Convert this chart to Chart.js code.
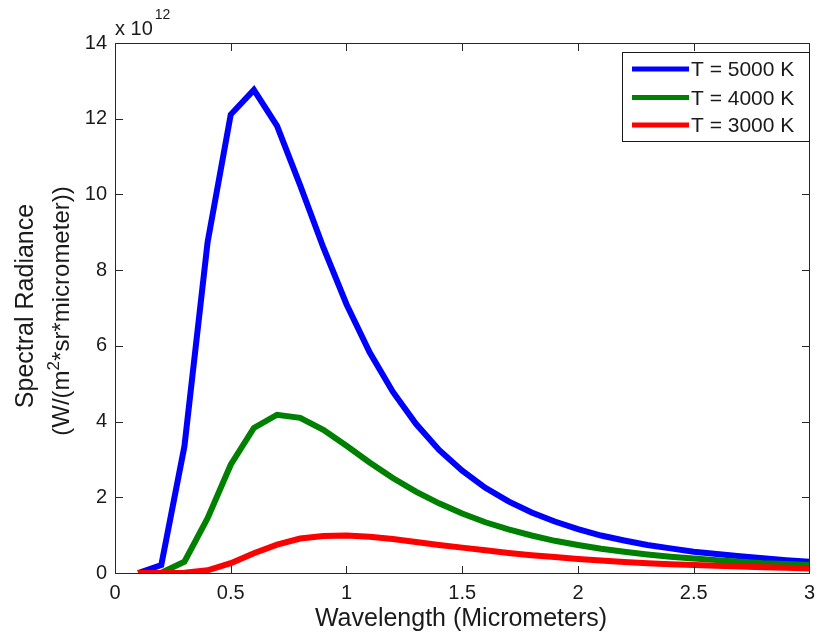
<!DOCTYPE html>
<html>
<head>
<meta charset="utf-8">
<script src="https://cdn.jsdelivr.net/npm/chart.js@4/dist/chart.umd.min.js"></script>
<style>
  html, body { margin: 0; padding: 0; background: #ffffff; }
  #wrap { width: 823px; height: 636px; }
</style>
</head>
<body>
<div id="wrap"><canvas id="c" width="823" height="636"></canvas></div>
<script>
// ---- data (values in units of 10^12 W/(m^2*sr*micrometer)) ----
const wavelengths = [0.1,0.2,0.3,0.4,0.5,0.6,0.7,0.8,0.9,1.0,1.1,1.2,1.3,1.4,1.5,1.6,1.7,1.8,1.9,2.0,2.1,2.2,2.3,2.4,2.5,2.6,2.7,2.8,2.9,3.0];
const radiance5000 = [0.00,0.21,3.35,8.74,12.11,12.76,11.81,10.24,8.60,7.10,5.83,4.79,3.94,3.25,2.70,2.25,1.89,1.60,1.36,1.16,0.99,0.86,0.74,0.65,0.56,0.50,0.44,0.39,0.34,0.30];
const radiance4000 = [0.00,0.006,0.30,1.45,2.86,3.83,4.18,4.10,3.78,3.36,2.92,2.51,2.15,1.84,1.57,1.34,1.15,0.99,0.85,0.74,0.64,0.56,0.49,0.43,0.38,0.34,0.30,0.26,0.24,0.21];
const radiance3000 = [0.00,0.00,0.006,0.072,0.26,0.52,0.75,0.91,0.98,0.99,0.96,0.90,0.82,0.74,0.67,0.60,0.53,0.47,0.42,0.37,0.33,0.29,0.26,0.23,0.21,0.19,0.17,0.15,0.14,0.12];
const seriesLabels = ['T = 5000 K', 'T = 4000 K', 'T = 3000 K'];
const seriesColors = ['#0000ff', '#008000', '#ff0000'];
const xTickValues = [0, 0.5, 1, 1.5, 2, 2.5, 3];
const xTickLabels = ['0', '0.5', '1', '1.5', '2', '2.5', '3'];
const yTickValues = [0, 2, 4, 6, 8, 10, 12, 14];
const yTickLabels = ['0', '2', '4', '6', '8', '10', '12', '14'];
const xTitle = 'Wavelength (Micrometers)';
const yTitle1 = 'Spectral Radiance';
const yTitle2Pre = '(W/(m', yTitle2Sup = '2', yTitle2Post = '*sr*micrometer))';
const exponentBase = 'x 10', exponentPow = '12';

const FONT = '"Liberation Sans", Arial, Helvetica, sans-serif';
const AXIS_COLOR = '#262626';
const TEXT_COLOR = '#1a1a1a';

function pts(vals) { return wavelengths.map((w, i) => ({ x: w, y: vals[i] })); }
const allSeries = [radiance5000, radiance4000, radiance3000];

const datasets = allSeries.map((vals, i) => ({
  label: seriesLabels[i],
  data: pts(vals),
  borderColor: seriesColors[i],
  backgroundColor: seriesColors[i],
  borderWidth: 6,
  pointRadius: 0,
  tension: 0,
  fill: false,
  borderJoinStyle: 'miter',
  borderCapStyle: 'butt',
  order: 3 - i
}));

const overlay = {
  id: 'overlay',
  afterDraw(chart) {
    const { ctx, chartArea: a, scales: { x, y } } = chart;
    const L = Math.round(a.left), R = Math.round(a.right), T = Math.round(a.top), B = Math.round(a.bottom);
    ctx.save();
    // box
    ctx.strokeStyle = AXIS_COLOR; ctx.lineWidth = 1;
    ctx.strokeRect(L + 0.5, T + 0.5, R - L, B - T);
    // inward ticks
    const tl = 7;
    ctx.beginPath();
    x.ticks.forEach(t => {
      const px = Math.round(x.getPixelForValue(t.value)) + 0.5;
      ctx.moveTo(px, B); ctx.lineTo(px, B - tl);
      ctx.moveTo(px, T + 1); ctx.lineTo(px, T + 1 + tl);
    });
    y.ticks.forEach(t => {
      const py = Math.round(y.getPixelForValue(t.value)) + 0.5;
      ctx.moveTo(L + 1, py); ctx.lineTo(L + 1 + tl, py);
      ctx.moveTo(R, py); ctx.lineTo(R - tl, py);
    });
    ctx.stroke();

    // legend
    const lx0 = 622.5, ly0 = 52.5, lw = 187, lh = 89;
    ctx.fillStyle = '#ffffff';
    ctx.fillRect(lx0, ly0, lw, lh);
    ctx.strokeStyle = '#1a1a1a';
    ctx.strokeRect(lx0, ly0, lw, lh);
    const rows = [69, 97.5, 125];
    ctx.font = '21px ' + FONT;
    ctx.textAlign = 'left'; ctx.textBaseline = 'middle';
    chart.data.datasets.forEach((ds, i) => {
      ctx.strokeStyle = ds.borderColor; ctx.lineWidth = 5;
      ctx.beginPath(); ctx.moveTo(632, rows[i]); ctx.lineTo(689, rows[i]); ctx.stroke();
      ctx.fillStyle = TEXT_COLOR;
      ctx.fillText(ds.label, 691, rows[i] + 1.5);
    });

    // axis titles
    ctx.fillStyle = TEXT_COLOR;
    ctx.textBaseline = 'alphabetic';
    ctx.font = '25px ' + FONT;
    ctx.textAlign = 'center';
    ctx.fillText(xTitle, (L + R) / 2 - 1, 626);

    // y title line 1
    ctx.save();
    ctx.translate(33, 306); ctx.rotate(-Math.PI / 2);
    ctx.font = '25px ' + FONT; ctx.textAlign = 'center';
    ctx.fillText(yTitle1, 0, 0);
    ctx.restore();

    // y title line 2 with superscript
    ctx.save();
    ctx.translate(69, 311); ctx.rotate(-Math.PI / 2);
    ctx.textAlign = 'left';
    const mainF = '24px ' + FONT, supF = '17px ' + FONT;
    ctx.font = mainF; const w1 = ctx.measureText(yTitle2Pre).width; const w3 = ctx.measureText(yTitle2Post).width;
    ctx.font = supF; const w2 = ctx.measureText(yTitle2Sup).width;
    let sx = -(w1 + w2 + w3) / 2;
    ctx.font = mainF; ctx.fillText(yTitle2Pre, sx, 0); sx += w1;
    ctx.font = supF; ctx.fillText(yTitle2Sup, sx, -10); sx += w2;
    ctx.font = mainF; ctx.fillText(yTitle2Post, sx, 0);
    ctx.restore();

    // exponent label
    ctx.textAlign = 'left';
    ctx.font = '20px ' + FONT;
    ctx.fillText(exponentBase, L, 35);
    const eb = ctx.measureText(exponentBase).width;
    ctx.font = '14px ' + FONT;
    ctx.fillText(exponentPow, L + eb + 2, 19);
    ctx.restore();
  }
};

new Chart(document.getElementById('c'), {
  type: 'line',
  data: { datasets },
  options: {
    responsive: false,
    animation: false,
    devicePixelRatio: 1,
    layout: { padding: { left: 0, right: 7, top: 43, bottom: 0 } },
    plugins: { legend: { display: false }, tooltip: { enabled: false } },
    scales: {
      x: {
        type: 'linear', min: 0, max: 3,
        afterBuildTicks: s => { s.ticks = xTickValues.map(v => ({ value: v })); },
        afterFit: s => { s.height = 63; },
        grid: { display: true, drawOnChartArea: false, drawTicks: false },
        border: { display: false },
        ticks: {
          padding: 8, color: TEXT_COLOR, maxRotation: 0, autoSkip: false,
          font: { family: FONT, size: 20 },
          callback: (v) => { const k = xTickValues.indexOf(v); return k >= 0 ? xTickLabels[k] : ''; }
        }
      },
      y: {
        type: 'linear', min: 0, max: 14,
        afterBuildTicks: s => { s.ticks = yTickValues.map(v => ({ value: v })); },
        afterFit: s => { s.width = 115; },
        grid: { display: true, drawOnChartArea: false, drawTicks: false },
        border: { display: false },
        ticks: {
          padding: 8, color: TEXT_COLOR, autoSkip: false,
          font: { family: FONT, size: 20 },
          callback: (v) => { const k = yTickValues.indexOf(v); return k >= 0 ? yTickLabels[k] : ''; }
        }
      }
    }
  },
  plugins: [overlay]
});
</script>
</body>
</html>
